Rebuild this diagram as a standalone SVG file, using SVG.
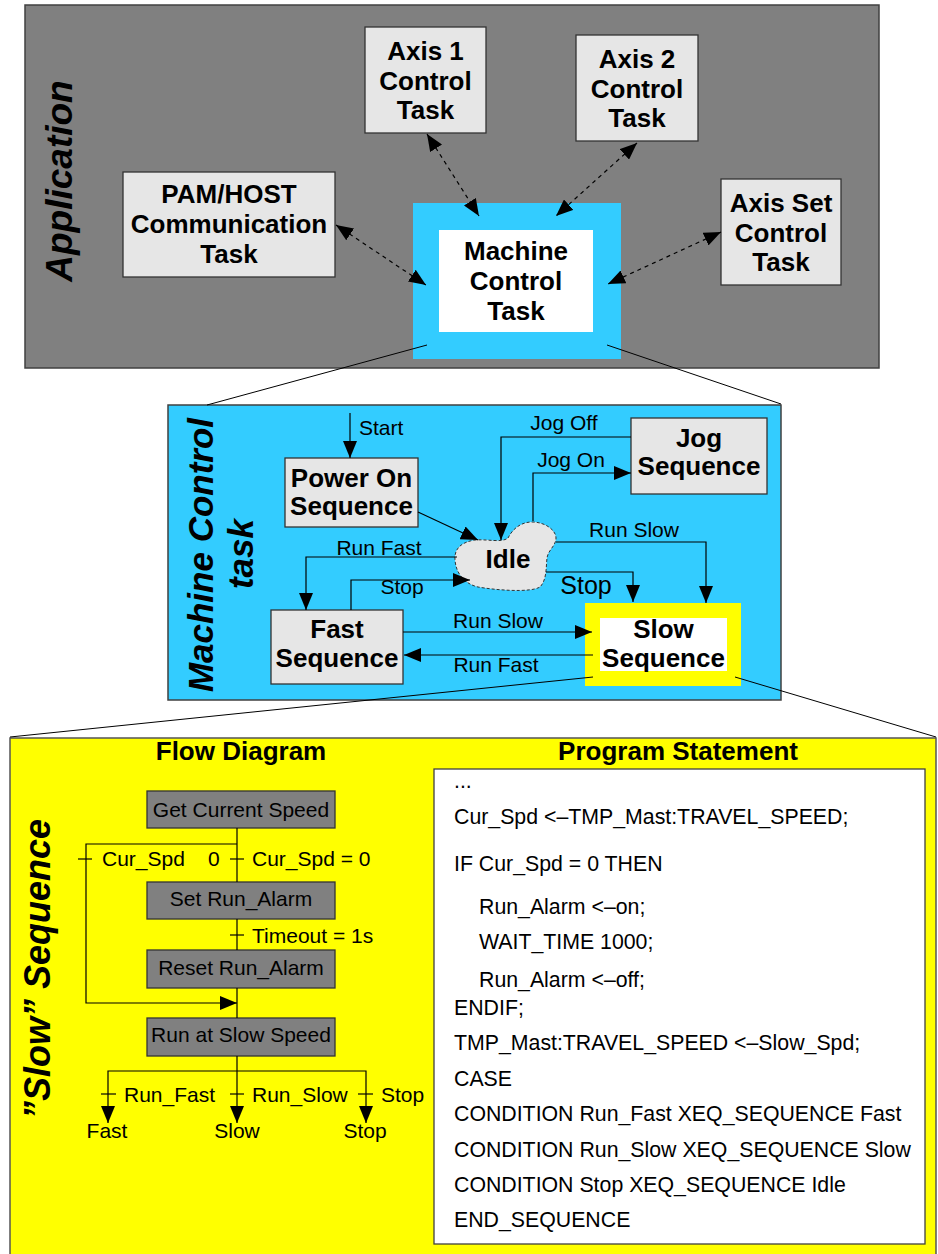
<svg xmlns="http://www.w3.org/2000/svg" width="938" height="1254" viewBox="0 0 938 1254">
  <style>
    .sans { font-family: "Liberation Sans", Arial, sans-serif; }
    .nodeL { fill: #e6e6e6; stroke: #333333; stroke-width: 1.3; }
    .flowBox { fill: #808080; stroke: #333333; stroke-width: 1.3; }
    .hd { font-family: "Liberation Sans", Arial, sans-serif; font-weight: bold; font-size: 26px; text-anchor: middle; fill: #000; }
    .side { font-family: "Liberation Sans", Arial, sans-serif; font-weight: bold; font-style: italic; text-anchor: middle; fill: #000; }
    .lbl { font-family: "Liberation Sans", Arial, sans-serif; font-size: 21px; fill: #000; }
    .big { font-size: 25px; }
    .mid { text-anchor: middle; }
    .code { font-family: "Liberation Sans", Arial, sans-serif; font-size: 21.3px; fill: #000; }
    .wire { fill: none; stroke: #000; stroke-width: 1.2; }
    .dash { fill: none; stroke: #000; stroke-width: 1.2; stroke-dasharray: 4 4; }
    .zoomline { fill: none; stroke: #000; stroke-width: 1; }
  </style>
  <defs>
    <marker id="arr" markerUnits="userSpaceOnUse" markerWidth="17" markerHeight="14" refX="17" refY="7" orient="auto-start-reverse">
      <path d="M0,0 L17,7 L0,14 Z" fill="#000"/>
    </marker>
    <marker id="arrS" markerUnits="userSpaceOnUse" markerWidth="17" markerHeight="14" refX="17" refY="7" orient="auto-start-reverse">
      <path d="M0,0 L17,7 L0,14 Z" fill="#000"/>
    </marker>
  </defs>

  <!-- Application layer -->
  <rect x="25" y="5" width="854" height="363" fill="#808080" stroke="#404040" stroke-width="1.5"/>
  <text class="side" font-size="37" transform="translate(72,181) rotate(-90)">Application</text>

  <g id="axis1">
    <rect class="nodeL" x="365" y="27" width="121" height="106"/>
    <text class="hd" x="425.5" y="60">Axis 1</text>
    <text class="hd" x="425.5" y="90">Control</text>
    <text class="hd" x="425.5" y="119">Task</text>
  </g>
  <g id="axis2">
    <rect class="nodeL" x="576" y="35" width="122" height="106"/>
    <text class="hd" x="637" y="68">Axis 2</text>
    <text class="hd" x="637" y="98">Control</text>
    <text class="hd" x="637" y="127">Task</text>
  </g>
  <g id="axisSet">
    <rect class="nodeL" x="721" y="179" width="120" height="106"/>
    <text class="hd" x="781" y="212">Axis Set</text>
    <text class="hd" x="781" y="242">Control</text>
    <text class="hd" x="781" y="271">Task</text>
  </g>
  <g id="pamHost">
    <rect class="nodeL" x="123" y="172" width="212" height="105"/>
    <text class="hd" x="229" y="203">PAM/HOST</text>
    <text class="hd" x="229" y="233">Communication</text>
    <text class="hd" x="229" y="263">Task</text>
  </g>
  <g id="machineControlTask">
    <rect x="413" y="203" width="208" height="156" fill="#33ccff"/>
    <rect x="439" y="230" width="154" height="102" fill="#ffffff"/>
    <text class="hd" x="516" y="260">Machine</text>
    <text class="hd" x="516" y="290">Control</text>
    <text class="hd" x="516" y="320">Task</text>
  </g>

  <!-- Machine control task layer -->
  <rect x="168" y="405" width="613" height="295" fill="#33ccff" stroke="#404040" stroke-width="1.5"/>
  <text class="side" font-size="35" transform="translate(213,555) rotate(-90)">Machine Control</text>
  <text class="side" font-size="35" transform="translate(253,554) rotate(-90)">task</text>

  <g id="powerOn">
    <rect class="nodeL" x="285" y="458" width="133" height="69"/>
    <text class="hd" x="351.5" y="487">Power On</text>
    <text class="hd" x="351.5" y="515">Sequence</text>
  </g>
  <g id="fastSeq">
    <rect class="nodeL" x="271" y="610" width="132" height="74"/>
    <text class="hd" x="337" y="638">Fast</text>
    <text class="hd" x="337" y="667">Sequence</text>
  </g>
  <g id="jogSeq">
    <rect class="nodeL" x="631" y="418" width="136" height="76"/>
    <text class="hd" x="699" y="447">Jog</text>
    <text class="hd" x="699" y="475">Sequence</text>
  </g>
  <g id="slowSeq">
    <rect x="585" y="603" width="156" height="83" fill="#ffff00"/>
    <rect x="600" y="618" width="127" height="53" fill="#ffffff"/>
    <text class="hd" x="663.5" y="638">Slow</text>
    <text class="hd" x="663.5" y="667">Sequence</text>
  </g>
  <g id="idle">
    <path d="M508,538 C512,530 520,522 532,522 C545,522 556,530 556,538 C556,546 548,550 547,558 C546,566 547,580 540,587 C530,593 495,590 478,587 C465,584 456,574 455,560 C454,548 462,542 475,540 C488,539 502,543 508,538 Z" fill="#e6e6e6" stroke="#333333" stroke-width="1" stroke-dasharray="3 2"/>
    <text class="hd" x="508" y="568">Idle</text>
  </g>

  <!-- Slow sequence layer -->
  <rect x="10" y="738" width="926" height="530" fill="#ffff00" stroke="#555555" stroke-width="1.5"/>
  <text class="side" font-size="36" transform="translate(50,969) rotate(-90)">”Slow” Sequence</text>
  <text class="hd" x="241" y="760">Flow Diagram</text>
  <text class="hd" x="678" y="760">Program Statement</text>

  <g id="flowGetSpeed">
    <rect class="flowBox" x="147" y="791" width="188" height="37"/>
    <text class="lbl mid" x="241" y="817">Get Current Speed</text>
  </g>
  <g id="flowSetAlarm">
    <rect class="flowBox" x="147" y="882" width="188" height="37"/>
    <text class="lbl mid" x="241" y="906">Set Run_Alarm</text>
  </g>
  <g id="flowResetAlarm">
    <rect class="flowBox" x="147" y="950" width="188" height="38"/>
    <text class="lbl mid" x="241" y="975">Reset Run_Alarm</text>
  </g>
  <g id="flowRunSlow">
    <rect class="flowBox" x="147" y="1018" width="188" height="38"/>
    <text class="lbl mid" x="241" y="1042">Run at Slow Speed</text>
  </g>

  <g id="programStatement">
    <rect x="434" y="769" width="491" height="475" fill="#ffffff" stroke="#404040" stroke-width="1.3"/>
    <text class="code" x="454" y="788">...</text>
    <text class="code" x="454" y="824">Cur_Spd &lt;–TMP_Mast:TRAVEL_SPEED;</text>
    <text class="code" x="454" y="871">IF Cur_Spd = 0 THEN</text>
    <text class="code" x="479" y="914">Run_Alarm &lt;–on;</text>
    <text class="code" x="479" y="949">WAIT_TIME 1000;</text>
    <text class="code" x="479" y="987">Run_Alarm &lt;–off;</text>
    <text class="code" x="454" y="1015">ENDIF;</text>
    <text class="code" x="454" y="1050">TMP_Mast:TRAVEL_SPEED &lt;–Slow_Spd;</text>
    <text class="code" x="454" y="1086">CASE</text>
    <text class="code" x="454" y="1121">CONDITION Run_Fast XEQ_SEQUENCE Fast</text>
    <text class="code" x="454" y="1157">CONDITION Run_Slow XEQ_SEQUENCE Slow</text>
    <text class="code" x="454" y="1192">CONDITION Stop XEQ_SEQUENCE Idle</text>
    <text class="code" x="454" y="1227">END_SEQUENCE</text>
  </g>

  <!-- Connectors -->
  <g id="connectors">
    <!-- task communication (bidirectional, dashed) -->
    <line class="dash" x1="336" y1="225" x2="426" y2="285" marker-start="url(#arrS)" marker-end="url(#arrS)"/>
    <line class="dash" x1="427" y1="134" x2="479" y2="216" marker-start="url(#arrS)" marker-end="url(#arrS)"/>
    <line class="dash" x1="637" y1="143" x2="556" y2="216" marker-start="url(#arrS)" marker-end="url(#arrS)"/>
    <line class="dash" x1="721" y1="232" x2="608" y2="284" marker-start="url(#arrS)" marker-end="url(#arrS)"/>

    <!-- detail callout lines -->
    <line class="zoomline" x1="427" y1="345" x2="207" y2="405"/>
    <line class="zoomline" x1="607" y1="345" x2="781" y2="404"/>
    <line class="zoomline" x1="593" y1="677" x2="10" y2="737"/>
    <line class="zoomline" x1="735" y1="677" x2="936" y2="737"/>

    <!-- state transitions -->
    <line class="wire" x1="350" y1="413" x2="350" y2="458" marker-end="url(#arr)"/>
    <text class="lbl" x="359" y="435">Start</text>

    <line class="wire" x1="418" y1="512" x2="478" y2="540" marker-end="url(#arr)"/>

    <path class="wire" d="M457,557 H306 V610" marker-end="url(#arr)"/>
    <text class="lbl mid" x="379" y="555">Run Fast</text>

    <path class="wire" d="M351,610 V580 H470" marker-end="url(#arr)"/>
    <text class="lbl mid" x="402" y="594">Stop</text>

    <path class="wire" d="M631,437 H501 V540" marker-end="url(#arr)"/>
    <text class="lbl mid" x="564" y="430">Jog Off</text>

    <path class="wire" d="M533,521 V473 H631" marker-end="url(#arr)"/>
    <text class="lbl mid" x="571" y="467">Jog On</text>

    <path class="wire" d="M556,542 H706 V603" marker-end="url(#arr)"/>
    <text class="lbl mid" x="634" y="537">Run Slow</text>

    <path class="wire" d="M546,572 H633 V602" marker-end="url(#arr)"/>
    <text class="lbl big mid" x="586" y="594">Stop</text>

    <line class="wire" x1="403" y1="632" x2="592" y2="632" marker-end="url(#arr)"/>
    <text class="lbl mid" x="498" y="628">Run Slow</text>

    <line class="wire" x1="593" y1="655" x2="404" y2="655" marker-end="url(#arr)"/>
    <text class="lbl mid" x="496" y="672">Run Fast</text>

    <!-- flow diagram -->
    <line class="wire" x1="237" y1="828" x2="237" y2="882"/>
    <line class="wire" x1="237" y1="919" x2="237" y2="950"/>
    <line class="wire" x1="237" y1="988" x2="237" y2="1018"/>
    <path class="wire" d="M237,844 H86 V1003 H237" marker-end="url(#arr)"/>
    <line class="wire" x1="230" y1="859" x2="244" y2="859"/>
    <line class="wire" x1="78" y1="859" x2="92" y2="859"/>
    <line class="wire" x1="230" y1="935" x2="244" y2="935"/>
    <text class="lbl" x="102" y="866">Cur_Spd</text>
    <text class="lbl" x="208" y="866">0</text>
    <text class="lbl" x="252" y="866">Cur_Spd = 0</text>
    <text class="lbl" x="252" y="943">Timeout = 1s</text>

    <line class="wire" x1="237" y1="1056" x2="237" y2="1123" marker-end="url(#arr)"/>
    <path class="wire" d="M108,1123 V1071 H366 V1123" marker-start="url(#arr)" marker-end="url(#arr)"/>
    <line class="wire" x1="101" y1="1094" x2="116" y2="1094"/>
    <line class="wire" x1="230" y1="1094" x2="244" y2="1094"/>
    <line class="wire" x1="358" y1="1094" x2="373" y2="1094"/>
    <text class="lbl" x="124" y="1102">Run_Fast</text>
    <text class="lbl" x="252" y="1102">Run_Slow</text>
    <text class="lbl" x="381" y="1102">Stop</text>
    <text class="lbl mid" x="107" y="1138">Fast</text>
    <text class="lbl mid" x="237" y="1138">Slow</text>
    <text class="lbl mid" x="365" y="1138">Stop</text>
  </g>
</svg>
